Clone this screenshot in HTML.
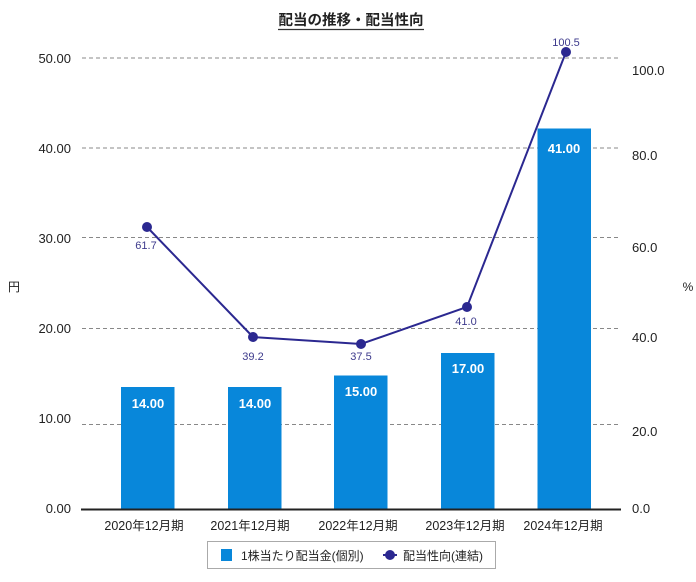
<!DOCTYPE html>
<html><head><meta charset="utf-8">
<style>
html,body{margin:0;padding:0;background:#fff;}
svg{display:block;}
text{font-family:"Liberation Sans","Noto Sans CJK JP",sans-serif;}
</style></head>
<body>
<svg width="696" height="582" viewBox="0 0 696 582" xmlns="http://www.w3.org/2000/svg">
<rect width="696" height="582" fill="#fff"/>
<!-- title -->
<text x="351" y="25" text-anchor="middle" font-size="14.5" font-weight="bold" fill="#222">配当の推移・配当性向</text>
<line x1="278" y1="29.5" x2="424" y2="29.5" stroke="#333" stroke-width="1.2"/>

<!-- gridlines -->
<g stroke="#888" stroke-width="1" stroke-dasharray="4,3">
<line x1="82" y1="58" x2="619" y2="58"/>
<line x1="82" y1="148" x2="619" y2="148"/>
<line x1="82" y1="237.5" x2="619" y2="237.5"/>
<line x1="82" y1="328.5" x2="619" y2="328.5"/>
<line x1="82" y1="424.5" x2="619" y2="424.5"/>
</g>

<!-- left axis labels -->
<g font-size="13" fill="#222" text-anchor="end">
<text x="71" y="63">50.00</text>
<text x="71" y="153">40.00</text>
<text x="71" y="243">30.00</text>
<text x="71" y="333">20.00</text>
<text x="71" y="423">10.00</text>
<text x="71" y="513">0.00</text>
</g>
<text x="14" y="291" font-size="12" fill="#222" text-anchor="middle">円</text>

<!-- right axis labels -->
<g font-size="13" fill="#222">
<text x="632" y="75">100.0</text>
<text x="632" y="160">80.0</text>
<text x="632" y="252">60.0</text>
<text x="632" y="342">40.0</text>
<text x="632" y="436">20.0</text>
<text x="632" y="513">0.0</text>
</g>
<text x="688" y="291" font-size="12" fill="#222" text-anchor="middle">%</text>

<!-- bars -->
<g fill="#0887da">
<rect x="121" y="387" width="53.5" height="122"/>
<rect x="228" y="387" width="53.5" height="122"/>
<rect x="334" y="375.5" width="53.5" height="133.5"/>
<rect x="441" y="353" width="53.5" height="156"/>
<rect x="537.5" y="128.5" width="53.5" height="380.5"/>
</g>
<g font-size="13" font-weight="bold" fill="#fff" text-anchor="middle">
<text x="148" y="408">14.00</text>
<text x="255" y="408">14.00</text>
<text x="361" y="396">15.00</text>
<text x="468" y="373">17.00</text>
<text x="564" y="153">41.00</text>
</g>

<!-- baseline -->
<line x1="81" y1="509.5" x2="621" y2="509.5" stroke="#222" stroke-width="2"/>

<!-- x labels -->
<g font-size="12.5" fill="#222" text-anchor="middle">
<text x="144" y="530">2020年12月期</text>
<text x="250" y="530">2021年12月期</text>
<text x="358" y="530">2022年12月期</text>
<text x="465" y="530">2023年12月期</text>
<text x="563" y="530">2024年12月期</text>
</g>

<!-- line series -->
<polyline points="147,227 253,337 361,344 467,307 566,52" fill="none" stroke="#2b2890" stroke-width="2"/>
<g fill="#2b2890">
<circle cx="147" cy="227" r="5"/>
<circle cx="253" cy="337" r="5"/>
<circle cx="361" cy="344" r="5"/>
<circle cx="467" cy="307" r="5"/>
<circle cx="566" cy="52" r="5"/>
</g>
<g font-size="11" fill="#3d3a8c" text-anchor="middle">
<text x="146" y="249">61.7</text>
<text x="253" y="360">39.2</text>
<text x="361" y="360">37.5</text>
<text x="466" y="325">41.0</text>
<text x="566" y="46">100.5</text>
</g>

<!-- legend -->
<rect x="207.5" y="541.5" width="288" height="27" fill="#fff" stroke="#aaa" stroke-width="1"/>
<rect x="221" y="549" width="11" height="12" fill="#0887da"/>
<text x="241" y="560" font-size="12" fill="#222">1株当たり配当金(個別)</text>
<line x1="383" y1="555" x2="397" y2="555" stroke="#2b2890" stroke-width="2"/>
<circle cx="390" cy="555" r="5" fill="#2b2890"/>
<text x="403" y="560" font-size="12" fill="#222">配当性向(連結)</text>
</svg>
</body></html>
